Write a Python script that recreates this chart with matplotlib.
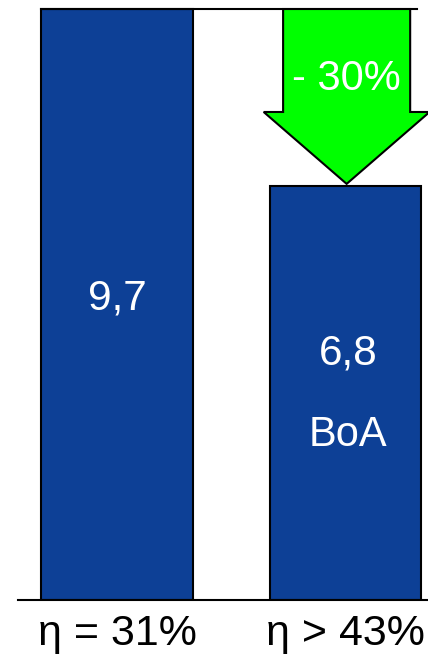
import matplotlib
matplotlib.use("Agg")
import matplotlib.pyplot as plt
from matplotlib.patches import Polygon

categories = ["η = 31%", "η > 43%"]
values = [9.7, 6.8]
value_labels = ["9,7", "6,8"]
extra_label = "BoA"
change_label = "- 30%"

plt.rcParams['font.family'] = ['Liberation Sans', 'DejaVu Sans']

fig = plt.figure(figsize=(4.28, 6.57), dpi=100)
ax = fig.add_axes([18/428, 1 - 600/657, 410/428, 600/657])
x = [0, 1]
bar_color = "#0D4096"
ax.bar(x, values, width=0.665, color=bar_color, edgecolor="black", linewidth=1.5, zorder=2)
ax.set_xlim(-0.433, 1.361)
ax.set_ylim(0, 9.848)

# reference line at first value
ax.plot([x[0] - 0.333, 1.313], [values[0], values[0]], color="black", lw=1.5, zorder=3)

# arrow
top = values[0]
tip = values[1]
head_base = 8.01
cx = x[1] + 0.005
sw, hw = 0.278, 0.363
pts = [(cx - sw, top), (cx + sw, top), (cx + sw, head_base), (cx + hw, head_base),
       (cx, tip + 0.03), (cx - hw, head_base), (cx - sw, head_base)]
ax.add_patch(Polygon(pts, closed=True, facecolor="#00FF00", edgecolor="black", lw=1.5, zorder=4))
ax.text(cx, 8.55, change_label, color="white", fontsize=30, ha="center", va="center", zorder=5)

ax.text(x[0], 4.95, value_labels[0], color="white", fontsize=30.5, ha="center", va="center", zorder=5)
ax.text(x[1] + 0.01, 4.05, value_labels[1], color="white", fontsize=30.5, ha="center", va="center", zorder=5)
ax.text(x[1] + 0.01, 2.71, extra_label, color="white", fontsize=30, ha="center", va="center", zorder=5)

for s in ["top", "left", "right"]:
    ax.spines[s].set_visible(False)
ax.spines["bottom"].set_linewidth(1.5)
ax.set_yticks([])
ax.set_xticks(x)
ax.set_xticklabels(categories, fontsize=31)
ax.tick_params(axis="x", length=0, pad=10)

fig.savefig("out.png", dpi=100)
